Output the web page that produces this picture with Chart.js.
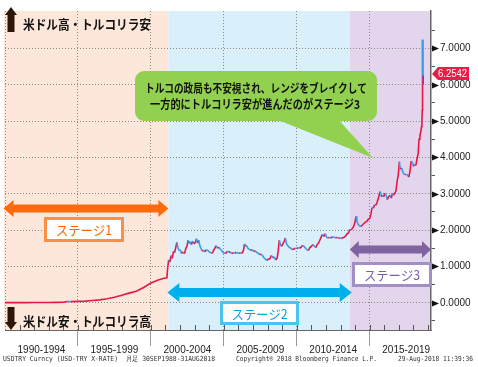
<!DOCTYPE html>
<html>
<head>
<meta charset="utf-8">
<script src="https://cdn.jsdelivr.net/npm/chart.js@4.4.1/dist/chart.umd.min.js"></script>
<style>
  html, body { margin: 0; padding: 0; background: #fff; }
</style>
</head>
<body>
<canvas id="chart" width="478" height="367"></canvas>
<script>
// =========================
// DATOS
// =========================
const dates = [
  1990.00, 1990.50, 1991.00, 1991.50, 1992.00, 1992.50, 1993.00, 1993.50, 1994.00, 1994.25,
  1994.50, 1995.00, 1995.50, 1996.00, 1996.50, 1997.00, 1997.50, 1998.00, 1998.50, 1999.00,
  1999.50, 2000.00, 2000.50, 2000.90, 2001.10, 2001.15, 2001.22, 2001.30, 2001.38, 2001.46,
  2001.55, 2001.63, 2001.72, 2001.78, 2001.85, 2001.93, 2002.02, 2002.10, 2002.20, 2002.30,
  2002.40, 2002.48, 2002.55, 2002.62, 2002.70, 2002.78, 2002.86, 2002.95, 2003.05, 2003.13,
  2003.20, 2003.28, 2003.36, 2003.45, 2003.52, 2003.60, 2003.70, 2003.80, 2003.90, 2004.00,
  2004.10, 2004.20, 2004.30, 2004.40, 2004.48, 2004.56, 2004.66, 2004.75, 2004.85, 2004.95,
  2005.05, 2005.15, 2005.25, 2005.35, 2005.45, 2005.55, 2005.65, 2005.75, 2005.85, 2005.95,
  2006.05, 2006.15, 2006.25, 2006.35, 2006.42, 2006.48, 2006.55, 2006.65, 2006.75, 2006.85,
  2006.95, 2007.05, 2007.15, 2007.25, 2007.35, 2007.45, 2007.55, 2007.65, 2007.75, 2007.85,
  2007.95, 2008.05, 2008.15, 2008.25, 2008.35, 2008.45, 2008.55, 2008.65, 2008.72, 2008.80,
  2008.87, 2008.95, 2009.05, 2009.15, 2009.22, 2009.30, 2009.40, 2009.50, 2009.60, 2009.70,
  2009.80, 2009.90, 2010.00, 2010.10, 2010.20, 2010.30, 2010.40, 2010.50, 2010.60, 2010.70,
  2010.80, 2010.90, 2011.00, 2011.10, 2011.20, 2011.30, 2011.40, 2011.50, 2011.58, 2011.66,
  2011.75, 2011.85, 2011.95, 2012.05, 2012.15, 2012.25, 2012.35, 2012.45, 2012.55, 2012.65,
  2012.75, 2012.85, 2012.95, 2013.05, 2013.15, 2013.25, 2013.35, 2013.45, 2013.55, 2013.63,
  2013.72, 2013.80, 2013.90, 2013.98, 2014.06, 2014.12, 2014.20, 2014.30, 2014.40, 2014.50,
  2014.60, 2014.70, 2014.80, 2014.90, 2015.00, 2015.08, 2015.16, 2015.25, 2015.33, 2015.42,
  2015.50, 2015.58, 2015.67, 2015.73, 2015.80, 2015.88, 2015.96, 2016.04, 2016.12, 2016.20,
  2016.30, 2016.40, 2016.48, 2016.56, 2016.64, 2016.72, 2016.80, 2016.88, 2016.96, 2017.03,
  2017.10, 2017.20, 2017.28, 2017.36, 2017.44, 2017.52, 2017.60, 2017.68, 2017.76, 2017.84,
  2017.92, 2018.00, 2018.08, 2018.16, 2018.24, 2018.32, 2018.38, 2018.44, 2018.50, 2018.55,
  2018.58, 2018.60, 2018.615, 2018.625, 2018.64, 2018.65, 2018.67
];

const rates = [
  0.0023, 0.0027, 0.0029, 0.0042, 0.0052, 0.0068, 0.0086, 0.0112, 0.0148, 0.032,
  0.031, 0.039, 0.044, 0.060, 0.080, 0.108, 0.150, 0.206, 0.265, 0.315,
  0.420, 0.545, 0.625, 0.672, 0.685, 0.96, 1.18, 1.12, 1.30, 1.22,
  1.42, 1.38, 1.55, 1.66, 1.52, 1.45, 1.44, 1.36, 1.40, 1.35,
  1.50, 1.56, 1.72, 1.64, 1.68, 1.60, 1.70, 1.62, 1.66, 1.76,
  1.64, 1.72, 1.56, 1.48, 1.42, 1.45, 1.40, 1.46, 1.44, 1.40,
  1.38, 1.36, 1.44, 1.52, 1.57, 1.50, 1.53, 1.48, 1.44, 1.38,
  1.36, 1.37, 1.42, 1.39, 1.40, 1.35, 1.38, 1.36, 1.39, 1.37,
  1.36, 1.38, 1.36, 1.45, 1.62, 1.56, 1.58, 1.50, 1.47, 1.44,
  1.46, 1.41, 1.43, 1.38, 1.37, 1.32, 1.34, 1.30, 1.24, 1.20,
  1.17, 1.20, 1.21, 1.30, 1.24, 1.26, 1.18, 1.22, 1.40, 1.72,
  1.62, 1.55, 1.62, 1.70, 1.78, 1.62, 1.56, 1.52, 1.50, 1.46,
  1.48, 1.50, 1.49, 1.52, 1.50, 1.53, 1.58, 1.55, 1.50, 1.46,
  1.44, 1.52, 1.55, 1.60, 1.56, 1.52, 1.60, 1.65, 1.72, 1.80,
  1.88, 1.82, 1.90, 1.80, 1.78, 1.80, 1.78, 1.82, 1.80, 1.79,
  1.80, 1.78, 1.78, 1.77, 1.79, 1.80, 1.84, 1.90, 1.92, 2.02,
  2.00, 2.04, 2.10, 2.20, 2.38, 2.24, 2.16, 2.12, 2.10, 2.14,
  2.18, 2.22, 2.24, 2.30, 2.32, 2.44, 2.62, 2.60, 2.70, 2.68,
  2.76, 2.86, 3.00, 3.06, 2.92, 2.96, 2.92, 3.02, 2.96, 2.84,
  2.92, 2.96, 2.88, 3.02, 2.96, 3.02, 3.08, 3.35, 3.52, 3.88,
  3.68, 3.70, 3.58, 3.54, 3.52, 3.54, 3.50, 3.46, 3.62, 3.90,
  3.86, 3.76, 3.80, 3.78, 3.96, 4.10, 4.50, 4.60, 4.70, 4.85,
  5.05, 5.30, 6.10, 7.24, 6.40, 6.00, 6.2542
];

const periodStarts = [1990, 1995, 2000, 2005, 2010, 2015];
const periodLabels = ["1990-1994", "1995-1999", "2000-2004", "2005-2009", "2010-2014", "2015-2019"];
const yTickValues = [0, 1, 2, 3, 4, 5, 6, 7];

const stageNames = ["ステージ1", "ステージ2", "ステージ3"];
const stageStart = [1989.9, 2001.2, 2013.63];
const stageEnd = [2001.2, 2013.63, 2019.2];

const lastValue = 6.2542;

// =========================
// ESTILOS
// =========================
const stageFill = ["#fde6da", "#d9f0fa", "#e3d5eb"];
const stageArrow = ["#ff6a0a", "#00b0ec", "#8064a2"];
const stageBorder = ["#fb8f45", "#4cc4f0", "#a290c4"];
const stageText = ["#ff6400", "#00a4e6", "#7a5ea8"];
const UP = "#e8174a";
const DOWN = "#3d9be9";

// =========================
// PLUGINS
// =========================
const shadePlugin = {
  id: "shade",
  beforeDraw(chart) {
    const { ctx, chartArea: a, scales: { x } } = chart;
    ctx.save();
    stageStart.forEach((s, i) => {
      const x1 = Math.max(a.left - 1, x.getPixelForValue(s));
      const x2 = Math.min(a.right, x.getPixelForValue(stageEnd[i]));
      ctx.fillStyle = stageFill[i];
      ctx.fillRect(x1, a.top, x2 - x1, a.bottom - a.top);
    });
    ctx.restore();
  }
};

function doubleArrow(ctx, x1, x2, y, shaft, head, headLen, color) {
  ctx.fillStyle = color;
  ctx.beginPath();
  ctx.moveTo(x1, y);
  ctx.lineTo(x1 + headLen, y - head / 2);
  ctx.lineTo(x1 + headLen, y - shaft / 2);
  ctx.lineTo(x2 - headLen, y - shaft / 2);
  ctx.lineTo(x2 - headLen, y - head / 2);
  ctx.lineTo(x2, y);
  ctx.lineTo(x2 - headLen, y + head / 2);
  ctx.lineTo(x2 - headLen, y + shaft / 2);
  ctx.lineTo(x1 + headLen, y + shaft / 2);
  ctx.lineTo(x1 + headLen, y + head / 2);
  ctx.closePath();
  ctx.fill();
}

function stageBox(ctx, i, x, y, w, h) {
  ctx.fillStyle = "#fff";
  ctx.fillRect(x, y, w, h);
  ctx.strokeStyle = stageBorder[i];
  ctx.lineWidth = 3;
  ctx.strokeRect(x + 1.5, y + 1.5, w - 3, h - 3);
  ctx.fillStyle = stageText[i];
  ctx.font = "13px 'Noto Sans CJK JP'";
  ctx.textAlign = "center";
  ctx.textBaseline = "middle";
  ctx.fillText(stageNames[i], x + w / 2, y + h / 2 + 1, 56);
}

function bigArrow(ctx, x, yTop, yBot, up) {
  ctx.fillStyle = "#2b1608";
  ctx.beginPath();
  if (up) {
    ctx.moveTo(x + 6, yTop);
    ctx.lineTo(x + 12, yTop + 8);
    ctx.lineTo(x + 9.5, yTop + 8);
    ctx.lineTo(x + 9.5, yBot);
    ctx.lineTo(x + 2.5, yBot);
    ctx.lineTo(x + 2.5, yTop + 8);
    ctx.lineTo(x, yTop + 8);
  } else {
    ctx.moveTo(x + 2.5, yTop);
    ctx.lineTo(x + 9.5, yTop);
    ctx.lineTo(x + 9.5, yBot - 8);
    ctx.lineTo(x + 12, yBot - 8);
    ctx.lineTo(x + 6, yBot);
    ctx.lineTo(x, yBot - 8);
    ctx.lineTo(x + 2.5, yBot - 8);
  }
  ctx.closePath();
  ctx.fill();
}

const overlayPlugin = {
  id: "overlay",
  afterDraw(chart) {
    const { ctx, chartArea: a, scales: { x, y } } = chart;
    ctx.save();

    // ticks menores del eje x (cada año)
    ctx.strokeStyle = "#555";
    ctx.lineWidth = 1;
    for (let yr = 1991; yr <= 2019; yr++) {
      const px = Math.round(x.getPixelForValue(yr)) + 0.5;
      ctx.beginPath();
      ctx.moveTo(px, a.bottom - 5);
      ctx.lineTo(px, a.bottom);
      ctx.stroke();
    }

    // triangulos del eje y
    ctx.fillStyle = "#111";
    yTickValues.forEach(v => {
      const py = Math.round(y.getPixelForValue(v)) + 0.5;
      ctx.beginPath();
      ctx.moveTo(a.right + 1, py - 3);
      ctx.lineTo(a.right + 8, py);
      ctx.lineTo(a.right + 1, py + 3);
      ctx.closePath();
      ctx.fill();
    });

    // flechas arriba / abajo
    bigArrow(ctx, 5, 7, 32, true);
    bigArrow(ctx, 5, 307, 330, false);
    ctx.fillStyle = "#111";
    ctx.font = "bold 13px 'Noto Sans CJK JP'";
    ctx.textAlign = "left";
    ctx.textBaseline = "middle";
    ctx.fillText("米ドル高・トルコリラ安", 23, 24, 128);
    ctx.fillText("米ドル安・トルコリラ高", 23, 321, 128);

    // callout verde
    ctx.fillStyle = "#92d050";
    ctx.beginPath();
    ctx.roundRect(135, 71, 242, 50, 9);
    ctx.fill();
    ctx.beginPath();
    ctx.moveTo(273, 118);
    ctx.lineTo(337, 118);
    ctx.lineTo(373, 158);
    ctx.closePath();
    ctx.fill();
    ctx.fillStyle = "#111";
    ctx.font = "bold 12px 'Noto Sans CJK JP'";
    ctx.textAlign = "center";
    ctx.fillText("トルコの政局も不安視され、レンジをブレイクして", 256, 88, 222);
    ctx.fillText("一方的にトルコリラ安が進んだのがステージ3", 255, 104, 210);

    // etapas
    const sx = stageStart.map(s => Math.max(a.left - 2, x.getPixelForValue(s)));
    const ex = stageEnd.map(s => Math.min(a.right + 1, x.getPixelForValue(s)));
    doubleArrow(ctx, sx[0], ex[0], 208.5, 8, 17, 10, stageArrow[0]);
    doubleArrow(ctx, sx[1] - 1, ex[1] + 2, 292.5, 9, 19, 12, stageArrow[1]);
    doubleArrow(ctx, sx[2], ex[2], 249.5, 8, 17, 9, stageArrow[2]);
    stageBox(ctx, 0, 44, 217, 80, 25);
    stageBox(ctx, 1, 220, 301, 79, 24);
    stageBox(ctx, 2, 352, 262, 80, 25);

    // etiqueta de último valor
    const ly = y.getPixelForValue(lastValue) - 1.5;
    ctx.fillStyle = "#ee1b48";
    ctx.beginPath();
    ctx.moveTo(a.right + 1, ly);
    ctx.lineTo(a.right + 7, ly - 7);
    ctx.lineTo(469, ly - 7);
    ctx.lineTo(469, ly + 6);
    ctx.lineTo(a.right + 7, ly + 6);
    ctx.closePath();
    ctx.fill();
    ctx.fillStyle = "#fff";
    ctx.font = "10px 'Liberation Sans'";
    ctx.textAlign = "left";
    ctx.textBaseline = "middle";
    ctx.fillText(lastValue.toFixed(4), 438, ly, 29);

    // pie
    ctx.fillStyle = "#333";
    ctx.font = "7px 'DejaVu Sans Mono'";
    ctx.fillText("USDTRY Curncy (USD-TRY X-RATE)  月足 30SEP1988-31AUG2018", 3, 359, 212);
    ctx.fillText("Copyright® 2018 Bloomberg Finance L.P.", 236, 359, 141);
    ctx.fillText("29-Aug-2018 11:39:36", 398, 359, 75);

    ctx.restore();
  }
};

// =========================
// CHART
// =========================
const points = dates.map((d, i) => ({ x: d, y: rates[i] }));

new Chart(document.getElementById("chart"), {
  type: "line",
  data: {
    datasets: [{
      data: points,
      borderColor: UP,
      borderWidth: 1.6,
      pointRadius: 0,
      tension: 0,
      segment: {
        borderColor: c => c.p1.parsed.y >= c.p0.parsed.y ? UP : DOWN
      }
    }]
  },
  options: {
    responsive: false,
    animation: false,
    devicePixelRatio: 1,
    layout: { padding: { left: 5, top: 4, right: 0, bottom: 0 } },
    plugins: {
      legend: { display: false },
      tooltip: { enabled: false }
    },
    scales: {
      x: {
        type: "linear",
        min: 1990,
        max: 2019.2,
        afterBuildTicks: s => {
          const t = [];
          periodStarts.forEach(p => { t.push({ value: p }); t.push({ value: p + 2.5 }); });
          s.ticks = t;
        },
        afterFit: s => { s.height = 37; },
        grid: {
          color: c => (c.tick && c.tick.value % 5 === 0) ? "#8a8a8a" : "transparent",
          tickColor: c => (c.tick && c.tick.value % 5 === 0 && c.tick.value > 1990) ? "#9a9a9a" : "transparent",
          tickLength: 16,
          lineWidth: 1
        },
        border: { display: true, color: "#666", width: 1, dash: [1, 2] },
        ticks: {
          autoSkip: false,
          maxRotation: 0,
          padding: -2,
          color: "#222",
          font: { family: "Liberation Sans", size: 10 },
          callback: v => {
            const i = periodStarts.indexOf(v - 2.5);
            return i >= 0 ? periodLabels[i] : "";
          }
        }
      },
      y: {
        position: "right",
        min: -0.75,
        max: 8.03,
        afterBuildTicks: s => {
          const t = [];
          for (let v = -0.5; v <= 7.5; v += 0.5) t.push({ value: v });
          s.ticks = t;
        },
        afterFit: s => { s.width = 47; },
        grid: {
          color: c => (c.tick && Number.isInteger(c.tick.value)) ? "#8a8a8a" : "transparent",
          tickColor: "#555",
          tickLength: 4,
          lineWidth: 1
        },
        border: { display: true, color: "#666", width: 1.5, dash: [1, 2] },
        ticks: {
          padding: 5,
          color: "#222",
          font: { family: "Liberation Sans", size: 10 },
          callback: v => Number.isInteger(v) ? v.toFixed(4) : ""
        }
      }
    }
  },
  plugins: [shadePlugin, overlayPlugin]
});
</script>
</body>
</html>
